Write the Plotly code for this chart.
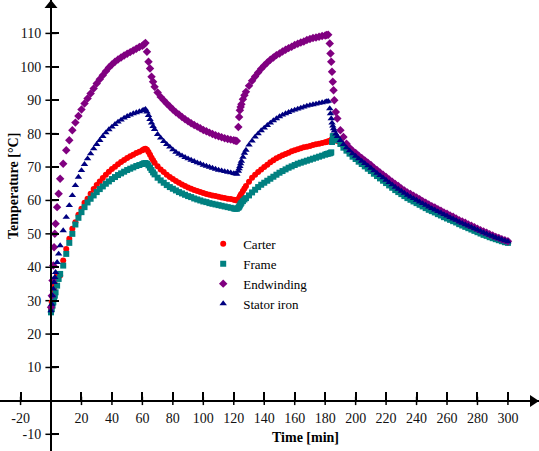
import plotly.graph_objects as go

# ---------------- data ----------------
time_min = (
    [0, 0.5, 1, 1.5, 2, 2.5, 3, 4, 5, 6]
    + list(range(8, 61, 2)) + [61, 62]
    + [63, 64, 65, 66, 67, 68] + list(range(70, 121, 2)) + [121, 122]
    + [123, 123.5, 124, 124.5, 125, 126, 127, 128] + list(range(130, 181, 2)) + [181, 182]
    + [183, 183.5, 184, 184.5, 185, 185.5, 186, 187, 188] + list(range(190, 301, 2))
)

carter = [
    27.5, 29.5, 31, 32.5, 33.8, 35, 36.5, 37.5, 37.5, 37.5,
    42, 45.5, 48.5, 51.5, 53.5, 55.7, 57.5, 59.3, 60.5, 62, 63.4, 64.6, 65.7, 66.7, 67.7, 68.6, 69.4,
    70.1, 70.8, 71.5, 72.1, 72.7, 73.2, 73.7, 74.2, 74.6, 75, 75.3, 75.5,
    75.2, 74.5, 73.7, 72.8, 72, 71.3,
    70.2, 69.3, 68.5, 67.7, 67, 66.4, 65.8, 65.3, 64.8, 64.3, 63.9, 63.5, 63.1, 62.8, 62.5, 62.2,
    61.9, 61.7, 61.5, 61.3, 61.1, 60.9, 60.7, 60.5, 60.4, 60.2, 60.1, 60,
    60.3, 60.7, 61.2, 61.6, 62, 62.8, 63.6, 64.3,
    65.6, 66.8, 67.7, 68.5, 69.3, 70, 70.7, 71.4, 72, 72.6, 73.1, 73.5, 73.9, 74.3, 74.7, 75,
    75.3, 75.6, 75.9, 76.1, 76.3, 76.6, 76.8, 77, 77.2, 77.4, 77.5, 77.7,
    77.8, 77.9, 78, 78.3, 78.6, 78.8, 78.8, 78.3, 77.8,
    77.2, 76.2, 75.3, 74.4, 73.5, 72.8, 72.0, 71.3, 70.6, 69.9, 69.2, 68.4, 67.7, 67.0, 66.3, 65.6,
    64.9, 64.2, 63.5, 62.9, 62.3, 61.7, 61.1, 60.6, 60.1, 59.6, 59.1, 58.6, 58.1, 57.6, 57.1, 56.7,
    56.2, 55.8, 55.3, 54.9, 54.4, 54.0, 53.6, 53.1, 52.7, 52.3, 51.9, 51.5, 51.1, 50.7, 50.3, 49.9,
    49.6, 49.2, 48.9, 48.5, 48.2, 47.9, 47.6, 47.4,
]

frame = [
    26.5, 27.5, 28.5, 29.5, 30.5, 31.5, 32.5, 34.5, 36.5, 38,
    40.5, 44, 47.3, 50, 52.8, 54.8, 56.5, 58, 59.4, 60.5, 61.5, 62.5, 63.4, 64.2, 65, 65.7, 66.4,
    67, 67.6, 68.1, 68.6, 69.1, 69.5, 69.9, 70.3, 70.6, 70.9, 71.1, 71.2,
    71, 70.5, 69.8, 69.1, 68.4, 67.8,
    66.8, 66, 65.3, 64.6, 64, 63.5, 63, 62.5, 62.1, 61.7, 61.3, 61, 60.6, 60.3, 60, 59.7,
    59.5, 59.2, 59, 58.8, 58.6, 58.4, 58.2, 58, 57.8, 57.6, 57.5, 57.5,
    57.8, 58.1, 58.5, 58.9, 59.3, 59.8, 60.3, 60.7,
    61.5, 62.4, 63.2, 64, 64.7, 65.3, 65.9, 66.5, 67.1, 67.7, 68.3, 68.8, 69.3, 69.8, 70.2, 70.6,
    71, 71.3, 71.6, 71.9, 72.2, 72.5, 72.8, 73.1, 73.4, 73.7, 73.9, 74,
    74.1, 74.2, 74.4, 77.5, 79.2, 79.3, 79.2, 78.6, 78,
    76.9, 75.8, 74.9, 74.0, 73.1, 72.4, 71.6, 70.9, 70.2, 69.5, 68.8, 68.0, 67.3, 66.6, 65.9, 65.2,
    64.5, 63.8, 63.1, 62.5, 61.9, 61.3, 60.7, 60.2, 59.7, 59.2, 58.7, 58.2, 57.7, 57.2, 56.8, 56.4,
    55.9, 55.5, 55.0, 54.6, 54.2, 53.8, 53.4, 52.9, 52.5, 52.1, 51.7, 51.3, 50.9, 50.5, 50.1, 49.7,
    49.4, 49.0, 48.7, 48.4, 48.1, 47.8, 47.5, 47.3,
]

endwinding = [
    28, 31.5, 36, 40.5, 46, 50, 53, 58, 62, 66.5,
    71, 75, 78, 81, 83.3, 85.3, 87.2, 89, 90.5, 92, 93.5, 95, 96.3, 97.5, 98.7, 99.8, 100.7,
    101.5, 102.2, 102.8, 103.4, 103.9, 104.4, 104.9, 105.4, 105.9, 106.3, 106.7, 107.1,
    104.5, 101.5, 99.5, 97, 95.5, 94,
    92.3, 91, 90, 89, 88.1, 87.2, 86.4, 85.7, 85, 84.3, 83.7, 83.1, 82.6, 82.1, 81.6, 81.1,
    80.7, 80.3, 79.9, 79.5, 79.2, 78.9, 78.6, 78.4, 78.2, 78, 77.9, 77.8,
    82, 85, 87, 88, 88.8, 90.3, 91.5, 92.5,
    94.3, 95.8, 97.1, 98.3, 99.4, 100.4, 101.3, 102.1, 102.8, 103.5, 104, 104.6, 105.1, 105.6, 106, 106.5,
    106.9, 107.3, 107.6, 108, 108.3, 108.6, 108.8, 109, 109.2, 109.4, 109.5, 109.6,
    107, 104, 101.5, 98.5, 95.5, 93, 90, 86.5, 84.5,
    81.0, 79.0, 77.0, 75.8, 74.9, 74.2, 73.4, 72.7, 72.0, 71.3, 70.6, 69.8, 69.1, 68.4, 67.7, 67.0,
    66.3, 65.6, 64.9, 64.3, 63.6, 63.0, 62.4, 61.9, 61.4, 60.9, 60.4, 59.8, 59.3, 58.8, 58.3, 57.9,
    57.4, 56.9, 56.4, 56.0, 55.5, 55.1, 54.6, 54.1, 53.7, 53.3, 52.8, 52.4, 52.0, 51.5, 51.1, 50.7,
    50.3, 49.9, 49.5, 49.1, 48.8, 48.4, 48.1, 47.8,
]

stator_iron = [
    27, 29, 31.5, 33.5, 35.5, 37, 38.5, 41.5, 44, 46.5,
    51, 55, 58.5, 61.5, 64.5, 67, 69, 70.8, 72.5, 74, 75.5, 76.8, 78, 79.2, 80.3, 81.2, 82,
    82.8, 83.5, 84.1, 84.7, 85.2, 85.6, 86, 86.3, 86.6, 86.9, 87.1, 87.3,
    86.5, 85.5, 84.3, 83.2, 82.2, 81.3,
    79.8, 78.7, 77.7, 76.8, 76, 75.2, 74.5, 73.9, 73.4, 72.9, 72.5, 72.1, 71.7, 71.3, 71, 70.6,
    70.3, 70, 69.7, 69.4, 69.1, 68.9, 68.7, 68.5, 68.3, 68.1, 68, 67.9,
    68.8, 69.5, 70.2, 71, 71.8, 73, 74.2, 75.1,
    76.6, 77.8, 79, 80, 80.9, 81.7, 82.5, 83.2, 83.9, 84.5, 85.1, 85.6, 86, 86.4, 86.8, 87.1,
    87.4, 87.7, 88, 88.3, 88.5, 88.7, 88.9, 89.1, 89.3, 89.5, 89.6, 89.7,
    87.5, 86, 84.5, 83.2, 82.3, 81.5, 80.8, 79.9, 79.2,
    78.0, 76.8, 75.8, 74.9, 74.0, 73.3, 72.5, 71.8, 71.1, 70.4, 69.7, 68.9, 68.2, 67.5, 66.8, 66.1,
    65.4, 64.7, 64.0, 63.4, 62.8, 62.2, 61.6, 61.1, 60.6, 60.1, 59.6, 59.1, 58.6, 58.1, 57.6, 57.2,
    56.7, 56.3, 55.8, 55.4, 54.9, 54.5, 54.1, 53.6, 53.2, 52.8, 52.4, 52.0, 51.6, 51.2, 50.8, 50.4,
    50.0, 49.6, 49.3, 48.9, 48.6, 48.3, 48.0, 47.7,
]

x_tick_values = [-20, 20, 40, 60, 80, 100, 120, 140, 160, 180, 200, 220, 240, 260, 280, 300]
x_tick_labels = ["-20", "20", "40", "60", "80", "100", "120", "140", "160", "180",
                 "200", "220", "240", "260", "280", "300"]
y_tick_values = [-10, 10, 20, 30, 40, 50, 60, 70, 80, 90, 100, 110]
y_tick_labels = ["-10", "10", "20", "30", "40", "50", "60", "70", "80", "90", "100", "110"]

for name, s in [("carter", carter), ("frame", frame), ("endwinding", endwinding), ("stator", stator_iron)]:
    assert len(s) == len(time_min), (name, len(s), len(time_min))

# ---------------- figure ----------------
W, H = 539, 451
X_RANGE = [-33.5, 320.4]
Y_RANGE = [-15, 120]
x0_frac = (0 - X_RANGE[0]) / (X_RANGE[1] - X_RANGE[0])
y0_frac = (0 - Y_RANGE[0]) / (Y_RANGE[1] - Y_RANGE[0])

SERIF = "Liberation Serif"

fig = go.Figure()

# short outward part of the tick marks (the inward part is drawn by the axes)
fig.add_trace(go.Scatter(
    x=x_tick_values, y=[0] * len(x_tick_values), mode="markers",
    marker=dict(symbol="line-ns", size=6, line=dict(width=1.5, color="black")),
    showlegend=False, hoverinfo="skip"))
fig.add_trace(go.Scatter(
    x=[0] * len(y_tick_values), y=y_tick_values, mode="markers",
    marker=dict(symbol="line-ew", size=8, line=dict(width=1.5, color="black")),
    showlegend=False, hoverinfo="skip"))

series = [
    ("Carter", carter, "circle", "#ff0000", 6),
    ("Frame", frame, "square", "#008080", 6),
    ("Endwinding", endwinding, "diamond", "#800080", 6.5),
    ("Stator iron", stator_iron, "triangle-up", "#000080", 6.5),
]
for name, vals, sym, col, sz in series:
    fig.add_trace(go.Scatter(
        x=time_min, y=vals, mode="markers", name=name,
        marker=dict(symbol=sym, size=sz, color=col, line=dict(width=0)),
        cliponaxis=False))

axis_font = dict(family=SERIF, size=14, color="#111111")

fig.update_layout(
    width=W, height=H,
    margin=dict(l=0, r=0, t=0, b=0),
    paper_bgcolor="white", plot_bgcolor="white",
    hovermode=False,
    xaxis=dict(range=X_RANGE, anchor="free", position=y0_frac, showline=True,
               linecolor="black", linewidth=2, showgrid=False, zeroline=False,
               tickmode="array", tickvals=x_tick_values, ticktext=x_tick_labels,
               ticks="inside", ticklen=8, tickwidth=1.5, tickcolor="black",
               ticklabelstandoff=4,
               tickfont=axis_font, fixedrange=True),
    yaxis=dict(range=Y_RANGE, anchor="free", position=x0_frac, showline=True,
               linecolor="black", linewidth=2, showgrid=False, zeroline=False,
               tickmode="array", tickvals=y_tick_values, ticktext=y_tick_labels,
               ticks="inside", ticklen=7, tickwidth=1.5, tickcolor="black",
               ticklabelstandoff=6,
               tickfont=axis_font, fixedrange=True),
    legend=dict(x=0.377, y=0.4925, xanchor="left", yanchor="top",
                bgcolor="rgba(0,0,0,0)", borderwidth=0,
                font=dict(family=SERIF, size=13, color="black"),
                itemwidth=30, tracegroupgap=0),
    annotations=[
        dict(text="<b>Time [min]</b>", xref="paper", yref="paper",
             x=305 / W, y=1 - 437 / H, xanchor="center", yanchor="middle",
             showarrow=False, font=dict(family=SERIF, size=14, color="black")),
        dict(text="<b>Temperature [°C]</b>", xref="paper", yref="paper",
             x=14 / W, y=1 - 186 / H, xanchor="center", yanchor="middle",
             textangle=-90, showarrow=False,
             font=dict(family=SERIF, size=14, color="black")),
    ],
    shapes=[
        # arrow head at the right end of the x axis
        dict(type="path", xref="paper", yref="paper", fillcolor="black",
             line=dict(width=0, color="black"),
             path=f"M {530/W},{y0_frac + 6/H} L {539/W},{y0_frac} L {530/W},{y0_frac - 6/H} Z"),
        # arrow head at the top of the y axis
        dict(type="path", xref="paper", yref="paper", fillcolor="black",
             line=dict(width=0, color="black"),
             path=f"M {x0_frac - 6.5/W},{1 - 8/H} L {x0_frac},{1.0} L {x0_frac + 6.5/W},{1 - 8/H} Z"),
    ],
)

fig.write_html("out.html", config={"displayModeBar": False},
               post_script="document.body.style.margin='0px';document.body.style.padding='0px';")
